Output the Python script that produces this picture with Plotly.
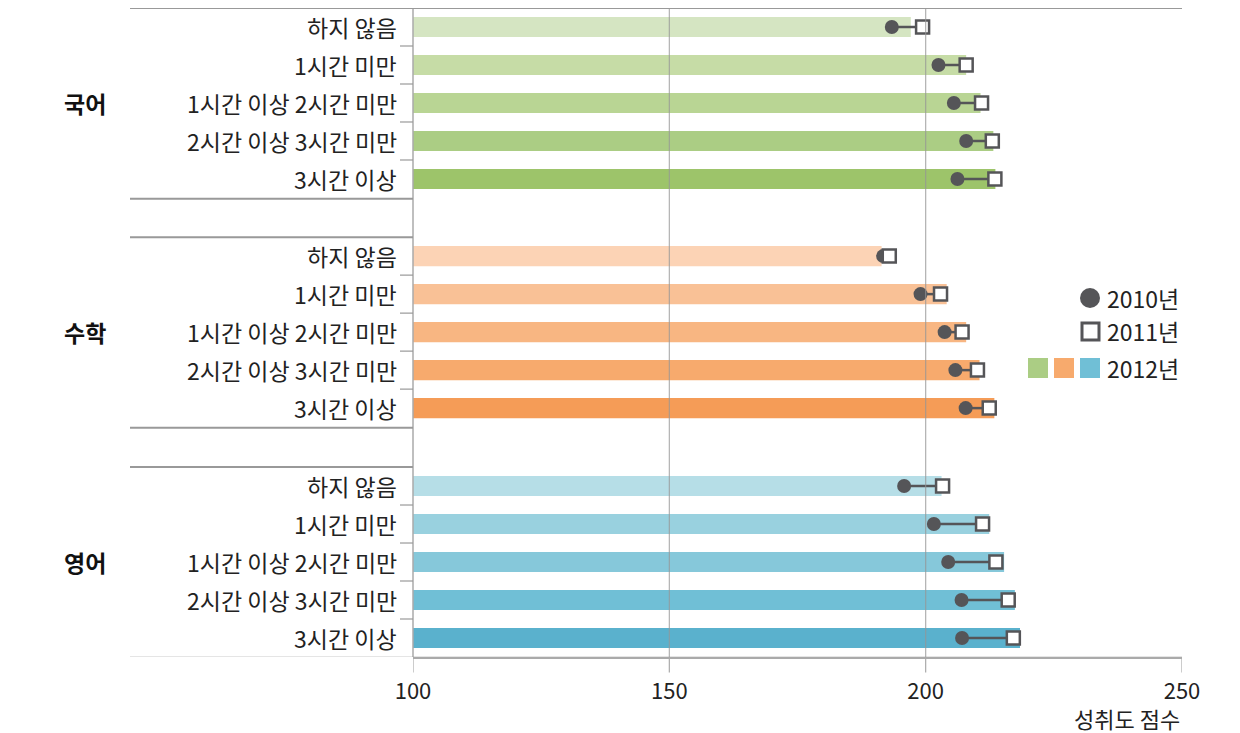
import plotly.graph_objects as go

subjects = ["국어", "수학", "영어"]
categories = ["하지 않음", "1시간 미만", "1시간이상 2시간 미만", "2시간이상 3시간 미만", "3시간이상"]
cat_labels = ["하지 않음", "1시간 미만", "1시간 이상 2시간 미만", "2시간 이상 3시간 미만", "3시간 이상"]

score_2010 = {
    "국어": [193.4, 202.5, 205.5, 207.9, 206.2],
    "수학": [191.7, 199.0, 203.7, 205.8, 207.8],
    "영어": [195.8, 201.6, 204.4, 207.0, 207.1],
}
score_2011 = {
    "국어": [199.4, 207.9, 210.9, 213.0, 213.5],
    "수학": [192.9, 202.9, 207.1, 210.1, 212.4],
    "영어": [203.3, 211.1, 213.7, 216.1, 217.1],
}
score_2012 = {
    "국어": [197.1, 207.9, 210.7, 213.2, 213.6],
    "수학": [191.4, 204.1, 207.9, 210.5, 213.4],
    "영어": [203.1, 212.4, 215.3, 217.4, 218.4],
}
colors = {
    "국어": ["#d5e5c2", "#c6dca6", "#b9d594", "#abcd84", "#9dc46a"],
    "수학": ["#fcd3b5", "#f9c196", "#f8b682", "#f7aa6d", "#f59c57"],
    "영어": ["#b6dee7", "#99d1df", "#86c8da", "#70bfd6", "#5ab1cd"],
}
x_ticks = [100, 150, 200, 250]
x_title = "성취도 점수"
legend_labels = ["2010년", "2011년", "2012년"]

FONT = "Noto Sans CJK KR"
DARK = "#555558"
GRID = "#aaaaaa"

group_offsets = [0, 6.03, 12.08]

fig = go.Figure()

ys_all, x10, x11, x12, cols = [], [], [], [], []
for g, s in enumerate(subjects):
    for r in range(len(categories)):
        ys_all.append(group_offsets[g] + r)
        x10.append(score_2010[s][r])
        x11.append(score_2011[s][r])
        x12.append(score_2012[s][r])
        cols.append(colors[s][r])

base = 100
fig.add_trace(go.Bar(
    y=ys_all, x=[v - base for v in x12], base=base, orientation="h",
    marker=dict(color=cols, line=dict(width=0)), width=0.53, showlegend=False,
    hoverinfo="skip",
))

lx, ly = [], []
for y, a, b in zip(ys_all, x10, x11):
    lx += [a, b, None]
    ly += [y, y, None]
fig.add_trace(go.Scatter(x=lx, y=ly, mode="lines", line=dict(color=DARK, width=2.5),
                         showlegend=False, hoverinfo="skip"))
fig.add_trace(go.Scatter(x=x10, y=ys_all, mode="markers",
                         marker=dict(symbol="circle", size=14, color=DARK, line=dict(width=0)),
                         showlegend=False))
fig.add_trace(go.Scatter(x=x11, y=ys_all, mode="markers",
                         marker=dict(symbol="square", size=13, color="white",
                                     line=dict(color=DARK, width=2.5)),
                         showlegend=False))

shapes = []
for t in x_ticks[1:-1]:
    shapes.append(dict(type="line", xref="x", yref="paper", x0=t, x1=t, y0=0, y1=1,
                       line=dict(color="rgba(150,150,150,0.75)", width=1.2), layer="above"))
for t in x_ticks:
    shapes.append(dict(type="line", xref="x", yref="paper", x0=t, x1=t, y0=0, y1=-0.024,
                       line=dict(color=GRID, width=1.2)))
shapes.append(dict(type="line", xref="paper", yref="paper", x0=0, x1=0, y0=0, y1=1,
                   line=dict(color=GRID, width=1.5), layer="above"))
x_left = (130 - 413) / 769.0
sep_y = [-0.5]
for g in range(len(subjects)):
    sep_y.append(group_offsets[g] + 4.52)
    if g + 1 < len(subjects):
        sep_y.append(group_offsets[g + 1] - 0.5)
for i, yv in enumerate(sep_y):
    x1 = 1 if (i == 0 or i == len(sep_y) - 1) else 0
    shapes.append(dict(type="line", xref="paper", yref="y", x0=x_left, x1=x1, y0=yv, y1=yv,
                       line=dict(color="#999999", width=2)))
tick_len = 13 / 769.0
for g in range(len(subjects)):
    for r in range(len(categories) - 1):
        yv = group_offsets[g] + r + 0.5
        shapes.append(dict(type="line", xref="paper", yref="y", x0=-tick_len, x1=0, y0=yv, y1=yv,
                           line=dict(color="#999999", width=1.2)))

annotations = []
for g, s in enumerate(subjects):
    for r, lab in enumerate(cat_labels):
        annotations.append(dict(xref="paper", yref="y", x=-14 / 769.0, y=group_offsets[g] + r,
                                text=lab, showarrow=False, xanchor="right", yanchor="middle",
                                font=dict(family=FONT, size=23, color="#222222")))
    annotations.append(dict(xref="paper", yref="y", x=(85 - 413) / 769.0, y=group_offsets[g] + 2,
                            text="<b>" + s + "</b>", showarrow=False, xanchor="center",
                            yanchor="middle", font=dict(family=FONT, size=23, color="#111111")))

annotations.append(dict(xref="paper", yref="paper", x=1, y=-(718 - 657) / 649.0, text=x_title,
                        showarrow=False, xanchor="right", yanchor="middle",
                        font=dict(family=FONT, size=22, color="#222222")))

W, H = 769.0, 649.0
def px(xp):
    return (xp - 413) / W
def py(yp):
    return 1 - (yp - 8) / H

r = 10
shapes.append(dict(type="circle", xref="paper", yref="paper",
                   x0=px(1090 - r), x1=px(1090 + r), y0=py(298 + r), y1=py(298 - r),
                   fillcolor=DARK, line=dict(width=0)))
shapes.append(dict(type="rect", xref="paper", yref="paper",
                   x0=px(1082), x1=px(1099), y0=py(340), y1=py(323),
                   fillcolor="white", line=dict(color=DARK, width=3)))
for i, s in enumerate(subjects):
    cx = 1038 + i * 26
    shapes.append(dict(type="rect", xref="paper", yref="paper",
                       x0=px(cx - 10), x1=px(cx + 10), y0=py(378), y1=py(358),
                       fillcolor=colors[s][3], line=dict(width=0)))
for lab, yp in zip(legend_labels, [298, 331, 368]):
    annotations.append(dict(xref="paper", yref="paper", x=px(1105), y=py(yp), text=lab,
                            showarrow=False, xanchor="left", yanchor="middle",
                            font=dict(family=FONT, size=23, color="#222222")))

fig.update_layout(
    width=1240, height=733,
    margin=dict(l=413, r=58, t=8, b=76),
    plot_bgcolor="white", paper_bgcolor="white",
    barmode="overlay",
    showlegend=False,
    xaxis=dict(range=[100, 250], tickvals=x_ticks, ticktext=[str(t) for t in x_ticks],
               showgrid=False, zeroline=False, showline=True, linecolor=GRID, linewidth=2,
               ticks="", tickfont=dict(family=FONT, size=22, color="#222222"), ticklabelstandoff=14,
               fixedrange=True),
    yaxis=dict(range=[16.58, -0.5], showticklabels=False, showgrid=False, zeroline=False,
               showline=False, fixedrange=True),
    shapes=shapes,
    annotations=annotations,
)

fig.write_html("out.html")
